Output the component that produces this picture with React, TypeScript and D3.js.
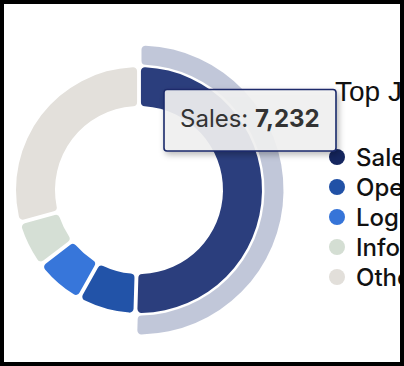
import React from "react";
import * as d3 from "d3";

const categories = ["Sales", "Operations", "Logistics", "Information Technology", "Other"];
const values = [7232, 1042, 884, 825, 4166];
const ringColors = ["#2b3e7d", "#2253a8", "#3776da", "#d5dfd5", "#e3e0db"];
const legendColors = ["#15265f", "#2151a6", "#3674d8", "#d4ded3", "#e2dfda"];
const title = "Top Job Categories";
const hovered = 0;

const W = 404;
const H = 366;
const cx = 139;
const cy = 190;
const innerR = 84;
const outerR = 123;

export default function App() {
  const pie = d3
    .pie<number>()
    .sort(null)
    .value((d) => d)
    .startAngle(0)
    .endAngle(2 * Math.PI)
    .padAngle(0.026);
  const arcs = pie(values);
  const arc = d3.arc<d3.PieArcDatum<number>>().innerRadius(innerR).outerRadius(outerR).cornerRadius(4);
  const hoverArc = d3
    .arc<d3.PieArcDatum<number>>()
    .innerRadius(outerR + 2.5)
    .outerRadius(outerR + 21.5)
    .cornerRadius(4);
  const fmt = d3.format(",");

  const legendY = d3.scalePoint<string>().domain(categories).range([157, 277]);

  return (
    <div style={{ position: "fixed", left: 0, top: 0, width: W, height: H, background: "#fff" }}>
      <svg width={W} height={H} style={{ display: "block" }}>
        <defs>
          <clipPath id="inner">
            <rect x={4} y={4} width={396} height={358} />
          </clipPath>
          <filter id="shadow" x="-20%" y="-30%" width="150%" height="170%">
            <feDropShadow dx="2" dy="3" stdDeviation="3" floodColor="#000" floodOpacity="0.3" />
          </filter>
        </defs>
        <g clipPath="url(#inner)">
          <g transform={`translate(${cx},${cy})`}>
            <path d={hoverArc(arcs[hovered]) || ""} fill={ringColors[hovered]} opacity={0.29} />
            {arcs.map((a, i) => (
              <path key={i} d={arc(a) || ""} fill={ringColors[i]} />
            ))}
          </g>
          <text
            x={335}
            y={101}
            fontFamily="Liberation Sans, Arial, sans-serif"
            fontSize={28}
            fill="#111"
          >
            {title}
          </text>
          {categories.map((c, i) => (
            <g key={c}>
              <circle cx={337} cy={legendY(c)} r={8} fill={legendColors[i]} />
              <text
                x={356}
                y={legendY(c)}
                dy="0.36em"
                fontFamily="Inter, sans-serif"
                fontSize={24}
                fontWeight={500}
                fill="#111"
              >
                {c}
              </text>
            </g>
          ))}
          <g filter="url(#shadow)">
            <rect
              x={164}
              y={89.5}
              width={172}
              height={61.5}
              rx={3}
              fill="rgba(242,242,242,0.9)"
              stroke="#1b2a6b"
              strokeWidth={1.6}
            />
          </g>
          <text x={180} y={127} fontFamily="Inter, sans-serif" fontSize={24} fill="#333">
            {categories[hovered]}:{" "}
            <tspan fontWeight="bold">{fmt(values[hovered])}</tspan>
          </text>
        </g>
        <rect x={2} y={2} width={400} height={362} fill="none" stroke="#000" strokeWidth={4} />
      </svg>
    </div>
  );
}
